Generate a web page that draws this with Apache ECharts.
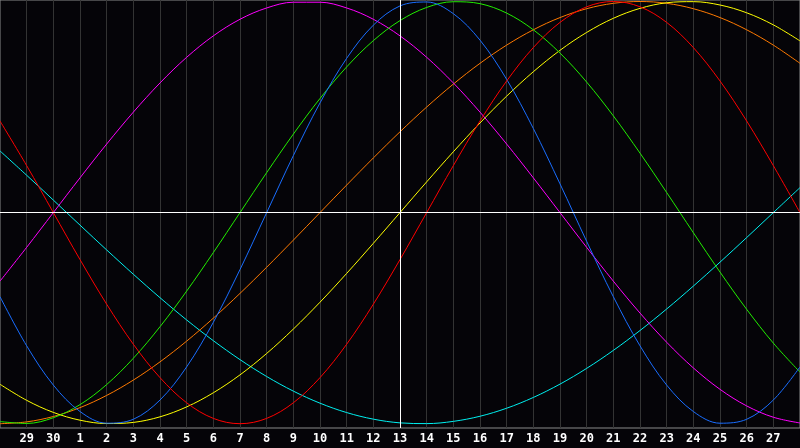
<!DOCTYPE html>
<html>
<head>
<meta charset="utf-8">
<script src="https://cdn.jsdelivr.net/npm/echarts@6/dist/echarts.min.js"></script>
<style>
html,body{margin:0;padding:0;background:#050408;}
#chart{width:800px;height:448px;}
</style>
</head>
<body>
<div id="chart"></div>
<script>
// day labels (one per vertical grid line), first/last are the plot edges
const days = ['28','29','30','1','2','3','4','5','6','7','8','9','10','11','12','13','14','15','16','17','18','19','20','21','22','23','24','25','26','27','28'];

// cycle values read at each day line (-1 .. 1)
const physical = [-0.3984,-0.6311,-0.8170,-0.9423,-0.9977,-0.9791,-0.8879,-0.7308,-0.5196,-0.2698,0,0.2698,0.5196,0.7308,0.8879,0.9791,0.9977,0.9423,0.8170,0.6311,0.3984,0.1362,-0.1362,-0.3984,-0.6311,-0.8170,-0.9423,-0.9977,-0.9791,-0.8879,-0.7308];
const emotional = [0.4339,0.2225,0,-0.2225,-0.4339,-0.6235,-0.7818,-0.9010,-0.9749,-1,-0.9749,-0.9010,-0.7818,-0.6235,-0.4339,-0.2225,0,0.2225,0.4339,0.6235,0.7818,0.9010,0.9749,1,0.9749,0.9010,0.7818,0.6235,0.4339,0.2225,0];
const intellectual = [-0.9898,-0.9989,-0.9718,-0.9096,-0.8146,-0.6901,-0.5406,-0.3717,-0.1893,0,0.1893,0.3717,0.5406,0.6901,0.8146,0.9096,0.9718,0.9989,0.9898,0.9450,0.8660,0.7557,0.6182,0.4582,0.2817,0.0951,-0.0951,-0.2817,-0.4582,-0.6182,-0.7557];
const intuitive = [-0.3247,-0.1646,0,0.1646,0.3247,0.4759,0.6142,0.7357,0.8372,0.9158,0.9694,0.9966,0.9966,0.9694,0.9158,0.8372,0.7357,0.6142,0.4759,0.3247,0.1646,0,-0.1646,-0.3247,-0.4759,-0.6142,-0.7357,-0.8372,-0.9158,-0.9694,-0.9966];
const aesthetic = [-0.8133,-0.8893,-0.9465,-0.9834,-0.9993,-0.9940,-0.9675,-0.9204,-0.8535,-0.7687,-0.6673,-0.5518,-0.4245,-0.2881,-0.1456,0,0.1456,0.2881,0.4245,0.5518,0.6673,0.7687,0.8535,0.9204,0.9675,0.9940,0.9993,0.9834,0.9465,0.8893,0.8133];
const awareness = [-1,-0.9914,-0.9659,-0.9239,-0.8660,-0.7934,-0.7071,-0.6088,-0.5,-0.3827,-0.2588,-0.1305,0,0.1305,0.2588,0.3827,0.5,0.6088,0.7071,0.7934,0.8660,0.9239,0.9659,0.9914,1,0.9914,0.9659,0.9239,0.8660,0.7934,0.7071];
const spiritual = [0.2920,0.1769,0.0593,-0.0593,-0.1769,-0.2920,-0.4031,-0.5086,-0.6068,-0.6965,-0.7765,-0.8457,-0.9028,-0.9473,-0.9785,-0.9961,-0.9996,-0.9890,-0.9647,-0.9267,-0.8757,-0.8125,-0.7379,-0.6528,-0.5586,-0.4566,-0.3482,-0.2349,-0.1183,0,0.1183];

const todayIndex = 15; // day 13

const seriesDefs = [
  {name:'Spiritual', data:spiritual, color:'#00f0f0'},
  {name:'Awareness', data:awareness, color:'#ff7a00'},
  {name:'Aesthetic', data:aesthetic, color:'#ffff00'},
  {name:'Intuitive', data:intuitive, color:'#ff00ff'},
  {name:'Intellectual', data:intellectual, color:'#22ee00'},
  {name:'Physical', data:physical, color:'#1a6eff'},
  {name:'Emotional', data:emotional, color:'#ff0000'}
];

const chart = echarts.init(document.getElementById('chart'), null, {renderer:'canvas'});
const series = seriesDefs.map(s => ({
  name: s.name,
  type: 'line',
  data: s.data,
  smooth: 0.35,
  symbol: 'none',
  silent: true,
  lineStyle: {color: s.color, width: 1},
  z: 3
}));
series.push({
  type: 'line',
  data: [],
  silent: true,
  markLine: {
    silent: true,
    symbol: 'none',
    label: {show: false},
    lineStyle: {color: '#ffffff', width: 1, type: 'solid'},
    data: [{xAxis: todayIndex}, {yAxis: 0}]
  },
  z: 2
});

chart.setOption({
  backgroundColor: '#050408',
  animation: false,
  grid: {left: 0, right: 0, top: 0, bottom: 20, containLabel: false, outerBoundsMode: 'none', show: true, borderColor: '#8a8a8a', borderWidth: 1, backgroundColor: 'transparent'},
  xAxis: {
    type: 'category',
    data: days,
    boundaryGap: false,
    axisLine: {show: true, lineStyle: {color: '#9a9a9a', width: 1}},
    axisTick: {show: false},
    splitLine: {show: true, lineStyle: {color: '#333333', width: 1}},
    axisLabel: {
      interval: function (index) { return index !== 0 && index !== days.length - 1; },
      color: '#ffffff',
      fontWeight: 'bold',
      fontSize: 12,
      fontFamily: 'DejaVu Sans Mono',
      margin: 5
    }
  },
  yAxis: {
    type: 'value',
    min: -1.0204,
    max: 1.0071,
    show: false,
    splitLine: {show: false}
  },
  series: series
});
</script>
</body>
</html>
